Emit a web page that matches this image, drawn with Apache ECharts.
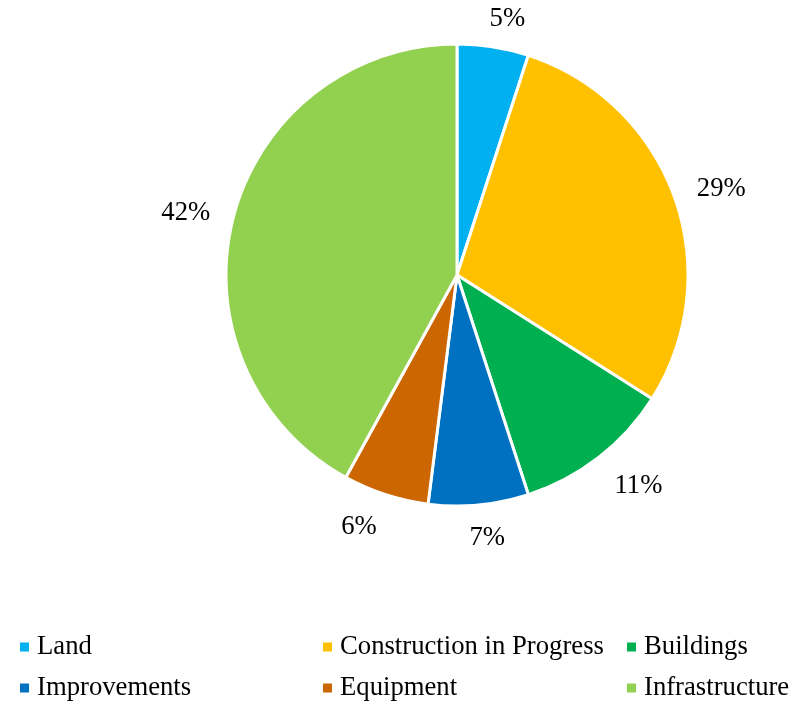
<!DOCTYPE html>
<html>
<head>
<meta charset="utf-8">
<script src="https://cdn.jsdelivr.net/npm/echarts@6/dist/echarts.min.js"></script>
<style>
  html, body { margin: 0; padding: 0; background: #fff; }
  #chart { width: 797px; height: 702px; }
</style>
</head>
<body>
<div id="chart"></div>
<script>
const categories = ['Land', 'Construction in Progress', 'Buildings', 'Improvements', 'Equipment', 'Infrastructure'];
const shares = [5, 29, 11, 7, 6, 42];
const colors = ['#00b0f0', '#ffc000', '#00b050', '#0070c0', '#cc6600', '#92d050'];

const font = '"Liberation Serif", "Times New Roman", serif';
const fontSize = 26.7;
const cx = 457, cy = 275, R = 231;

// legend grid: 3 columns x 2 rows, filled row by row
const legendCols = [13, 316, 620];
const legendRows = [627, 668];

const total = shares.reduce((a, b) => a + b, 0);
const midAngles = [];
let acc = 0;
shares.forEach(v => {
  midAngles.push(((acc + v / 2) / total) * Math.PI * 2);
  acc += v;
});

const clamp = (v, lo, hi) => Math.max(lo, Math.min(hi, v));

const legends = categories.map((name, i) => ({
  left: legendCols[i % 3],
  top: legendRows[Math.floor(i / 3)],
  icon: 'rect',
  itemWidth: 11,
  itemHeight: 11,
  selectedMode: false,
  textStyle: {
    fontFamily: font, fontSize: fontSize, lineHeight: 30, color: '#000',
    padding: [0, 0, 0, 2],
  },
  data: [name],
}));

const chart = echarts.init(document.getElementById('chart'));
chart.setOption({
  color: colors,
  animation: false,
  legend: legends,
  series: [
    {
      type: 'pie',
      center: [cx, cy],
      radius: R,
      startAngle: 90,
      clockwise: true,
      avoidLabelOverlap: false,
      itemStyle: { borderColor: '#fff', borderWidth: 3 },
      label: {
        show: true,
        position: 'outside',
        formatter: '{c}%',
        fontFamily: font,
        fontSize: fontSize,
        color: '#000',
      },
      labelLine: { show: false },
      // outside-end labels: box pushed off the rim along the slice's mid direction
      labelLayout: function (p) {
        const a = midAngles[p.dataIndex];
        const dx = Math.sin(a), dy = -Math.cos(a);
        const w = p.labelRect.width, h = 26, gap = 20;
        const fx = clamp(4 * dx, -1.15, 1.15);
        const fy = Math.sign(dy) * clamp(2 * (Math.abs(dy) - 0.3), 0, 1) * (dy < 0 ? 0.6 : 1);
        return {
          x: cx + dx * (R + gap) + fx * w / 2,
          y: cy + dy * (R + gap) + fy * h / 2,
          align: 'center',
          verticalAlign: 'middle',
        };
      },
      emphasis: { disabled: true },
      data: categories.map((name, i) => ({ name: name, value: shares[i] })),
    },
  ],
});
</script>
</body>
</html>
